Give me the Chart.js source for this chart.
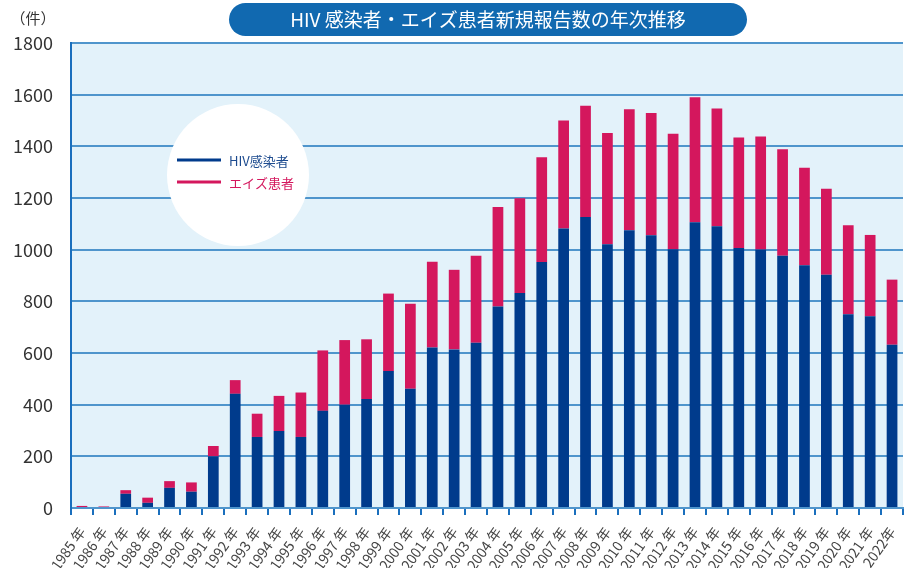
<!DOCTYPE html>
<html><head><meta charset="utf-8">
<script src="https://cdn.jsdelivr.net/npm/chart.js@4"></script>
<style>html,body{margin:0;padding:0;background:#fff;}canvas{display:block;}</style>
</head><body>
<canvas id="c" width="904" height="568"></canvas>
<script>
const TITLE = 'HIV 感染者・エイズ患者新規報告数の年次推移';
const UNIT = '（件）';
const years = ['1985 年','1986 年','1987 年','1988 年','1989 年','1990 年','1991 年','1992 年','1993 年','1994 年','1995 年','1996 年','1997 年','1998 年','1999 年','2000 年','2001 年','2002 年','2003 年','2004 年','2005 年','2006 年','2007 年','2008 年','2009 年','2010 年','2011 年','2012 年','2013 年','2014 年','2015 年','2016 年','2017 年','2018 年','2019 年','2020 年','2021 年','2022年'];
const hivLabel = 'HIV感染者';
const aidsLabel = 'エイズ患者';
const hiv = [0,0,55,20,78,63,200,442,275,298,275,376,400,422,530,462,621,614,640,780,832,952,1082,1126,1021,1075,1056,1002,1106,1091,1006,1001,976,940,903,750,742,632];
const aids = [8,6,14,20,26,36,40,53,90,136,172,234,250,231,300,329,332,308,336,385,367,406,418,431,431,469,473,447,484,455,428,437,413,377,333,345,315,252];
const yTicks = [0,200,400,600,800,1000,1200,1400,1600,1800];

const BLUE = '#003b8c', PINK = '#d4175d', GRID = '#4f95cc', AXIS = '#1a6fbd';
const FONT = '"Noto Sans CJK JP", "Noto Sans", sans-serif';

const deco = {
  id: 'deco',
  beforeDraw(chart) {
    const {ctx, chartArea: a} = chart;
    ctx.save();
    ctx.fillStyle = '#e3f2fa';
    ctx.fillRect(a.left, a.top, a.right - a.left, a.bottom - a.top);
    ctx.restore();
  },
  afterDatasetsDraw(chart) {
    const ctx = chart.ctx;
    ctx.save();
    ctx.fillStyle = '#ffffff';
    ctx.beginPath(); ctx.arc(238, 175, 71, 0, Math.PI * 2); ctx.fill();
    const ds = chart.data.datasets;
    const rows = [160, 182];
    ds.forEach((d, i) => {
      ctx.strokeStyle = d.backgroundColor; ctx.lineWidth = 3;
      ctx.beginPath(); ctx.moveTo(177, rows[i]); ctx.lineTo(221, rows[i]); ctx.stroke();
      ctx.fillStyle = i === 0 ? '#1d4b8f' : PINK;
      ctx.font = '13px ' + FONT; ctx.textBaseline = 'middle'; ctx.textAlign = 'left';
      ctx.fillText(d.label, 229, rows[i] + 1);
    });
    const x0 = 229, x1 = 747, y0 = 3, y1 = 36, r = 16.5;
    ctx.fillStyle = '#1169b0';
    ctx.beginPath();
    ctx.moveTo(x0 + r, y0); ctx.lineTo(x1 - r, y0);
    ctx.arc(x1 - r, y0 + r, r, -Math.PI / 2, Math.PI / 2);
    ctx.lineTo(x0 + r, y1);
    ctx.arc(x0 + r, y0 + r, r, Math.PI / 2, Math.PI * 1.5);
    ctx.closePath(); ctx.fill();
    ctx.fillStyle = '#ffffff'; ctx.font = '19px ' + FONT;
    ctx.textAlign = 'center'; ctx.textBaseline = 'middle';
    ctx.fillText(TITLE, (x0 + x1) / 2, 20);
    ctx.fillStyle = '#333'; ctx.font = '15px ' + FONT;
    ctx.fillText(UNIT, 33, 18);
    ctx.restore();
  }
};

new Chart(document.getElementById('c'), {
  type: 'bar',
  data: {
    labels: years,
    datasets: [
      {label: hivLabel, data: hiv, backgroundColor: BLUE, barPercentage: 0.49, categoryPercentage: 1},
      {label: aidsLabel, data: aids, backgroundColor: PINK, barPercentage: 0.49, categoryPercentage: 1}
    ]
  },
  options: {
    responsive: false,
    devicePixelRatio: 1,
    animation: false,
    layout: {padding: {left: 0, right: 1, top: 43, bottom: 0}},
    plugins: {legend: {display: false}, tooltip: {enabled: false}},
    scales: {
      x: {
        stacked: true,
        afterFit(s) { s.height = 60; s.paddingLeft = 0; s.paddingRight = 0; },
        grid: {offset: true, drawOnChartArea: false, drawTicks: true, tickLength: 7, color: AXIS, lineWidth: 2},
        border: {display: true, color: GRID, width: 2},
        ticks: {minRotation: 55, maxRotation: 55, autoSkip: false, padding: 9, color: '#444', font: {family: FONT, size: 14}}
      },
      y: {
        stacked: true,
        min: 0, max: 1800,
        afterFit(s) { s.width = 71; s.paddingTop = 0; s.paddingBottom = 0; },
        afterBuildTicks(s) { s.ticks = yTicks.map(v => ({value: v})); },
        grid: {drawTicks: false, color: GRID, lineWidth: 2},
        border: {display: true, color: AXIS, width: 2},
        ticks: {padding: 18, color: '#333', font: {family: FONT, size: 18}, callback: v => String(v)}
      }
    }
  },
  plugins: [deco]
});
</script>
</body></html>
